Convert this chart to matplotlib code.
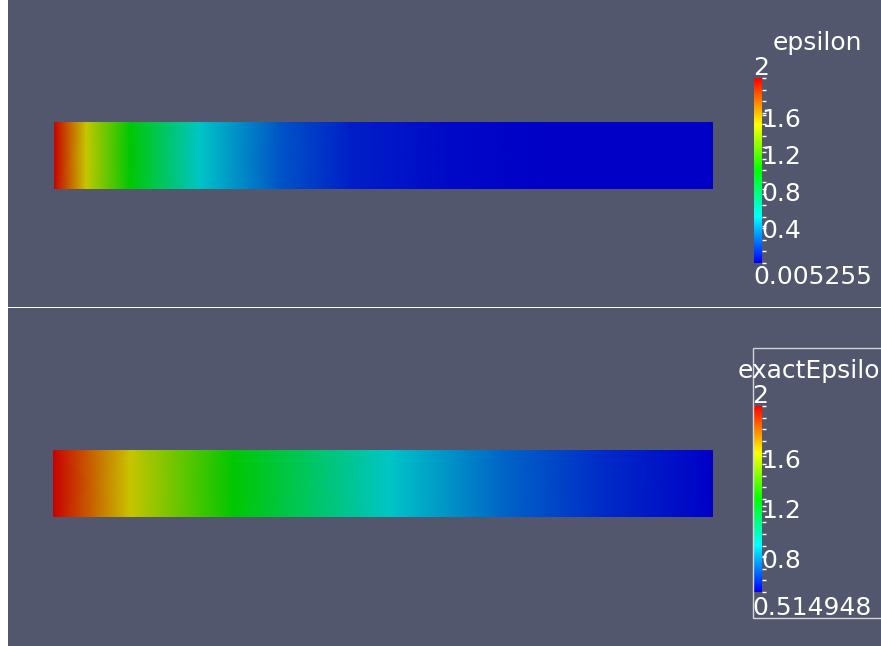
import numpy as np
import matplotlib
matplotlib.use("Agg")
import matplotlib.pyplot as plt
from matplotlib.colors import LinearSegmentedColormap, Normalize
from matplotlib.cm import ScalarMappable
from matplotlib.patches import Rectangle
from matplotlib.ticker import FixedLocator
from matplotlib.transforms import blended_transform_factory, ScaledTranslation

W, H = 881, 646
BG = "#52576e"

# computed epsilon sampled along the bar (0 = left end, 1 = right end)
eps_pos = [0.0, 0.0486, 0.115, 0.2215, 0.343, 0.45, 0.60, 0.75, 1.0]
eps_val = [2.0, 1.5, 1.0, 0.5, 0.22, 0.09, 0.03, 0.012, 0.005255]
eps_ticks = [1.6, 1.2, 0.8, 0.4]

# exact epsilon along the same bar
exact_pos = [0.0, 0.117, 0.273, 0.511, 0.677, 0.83, 1.0]
exact_val = [2.0, 1.629, 1.257, 0.886, 0.71, 0.6, 0.514948]
exact_ticks = [1.6, 1.2, 0.8]

rainbow = ["#0000ff", "#00ffff", "#00ff00", "#ffff00", "#ff0000"]
cmap = LinearSegmentedColormap.from_list("bluered", rainbow)
# surface is lit, so the rendered colours are a bit darker than the legend
shade = 0.78
lit = LinearSegmentedColormap.from_list(
    "bluered_lit", [tuple(shade * c for c in matplotlib.colors.to_rgb(h)) for h in rainbow])


def px_rect(x0, y0, x1, y1):
    return [x0 / W, 1 - y1 / H, (x1 - x0) / W, (y1 - y0) / H]


def px_off(dx, dy):
    return ScaledTranslation(dx / 100, dy / 100, fig.dpi_scale_trans)


def draw_field(rect, pos, val, vmin, vmax):
    ax = fig.add_axes(px_rect(*rect))
    X, Y = np.meshgrid(pos, [0, 1])
    C = np.vstack([val, val])
    ax.pcolormesh(X, Y, C, cmap=lit, norm=Normalize(vmin, vmax), shading="gouraud")
    ax.set_xlim(0, 1)
    ax.set_ylim(0, 1)
    ax.axis("off")


def draw_scalar_bar(rect, vmin, vmax, ticks, lo_text, lo_dy):
    cax = fig.add_axes(px_rect(*rect))
    cb = fig.colorbar(ScalarMappable(Normalize(vmin, vmax), cmap), cax=cax)
    cb.outline.set_visible(False)
    cb.set_ticks(ticks)
    cb.minorlocator = FixedLocator(np.linspace(vmin, vmax, 17))
    cax.tick_params(which="both", colors="white", length=3, width=1,
                    direction="out", labelright=False, labelleft=False)
    tr = blended_transform_factory(cax.transAxes, cax.transData)
    for v in ticks:
        cax.text(1.0, v, f"{v:g}", transform=tr + px_off(-1, -5), ha="left",
                 va="center", color="white", fontsize=18)
    cax.text(0, 1, "2", transform=cax.transAxes + px_off(-1, 10), ha="left",
             va="center", color="white", fontsize=18)
    cax.text(0, 0, lo_text, transform=cax.transAxes + px_off(-1, lo_dy), ha="left",
             va="center", color="white", fontsize=18)


fig = plt.figure(figsize=(W / 100, H / 100), dpi=100, facecolor="white")

# two render views separated by a thin white line
for panel in [(8, 0, W, 307), (8, 308, W, H)]:
    pax = fig.add_axes(px_rect(*panel))
    pax.set_facecolor(BG)
    pax.set_xticks([])
    pax.set_yticks([])
    for s in pax.spines.values():
        s.set_visible(False)

draw_field((54, 122, 713, 189), eps_pos, eps_val, min(eps_val), max(eps_val))
draw_field((53, 450, 713, 517), exact_pos, exact_val, min(exact_val), max(exact_val))

draw_scalar_bar((754, 78, 762, 263), min(eps_val), max(eps_val), eps_ticks, "0.005255", -14)
draw_scalar_bar((753, 406, 762, 592), min(exact_val), max(exact_val), exact_ticks, "0.514948", -16)

fig.text(817 / W, 1 - 43 / H, "epsilon", ha="center", va="center", color="white", fontsize=18)
# the lower title runs past the view edge, only this much of it shows
fig.text(880 / W, 1 - 371 / H, "exactEpsilo", ha="right", va="center",
         color="white", fontsize=18)

# selection frame around the lower scalar bar
fig.patches.append(Rectangle((753 / W, 1 - 618 / H), (W + 10 - 753) / W, 270 / H,
                             transform=fig.transFigure, fill=False,
                             edgecolor="#d4d4d4", lw=1))

fig.savefig("out.png", dpi=100, facecolor="white")
